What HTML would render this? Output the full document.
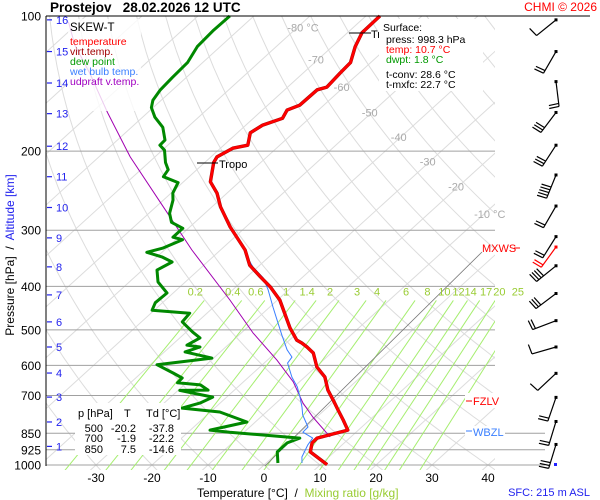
<!DOCTYPE html>
<html><head><meta charset="utf-8"><style>
html,body{margin:0;padding:0;background:#fff}
svg{display:block;font-family:"Liberation Sans",sans-serif}
</style></head><body>
<svg id="chart" width="600" height="500" viewBox="0 0 600 500" xmlns="http://www.w3.org/2000/svg">
<defs><clipPath id="plotclip"><rect x="46" y="16" width="449" height="454"/></clipPath></defs>
<rect width="600" height="500" fill="#fff"/>
<g id="grid" clip-path="url(#plotclip)"></g>
<g id="hlines"></g>
<g id="mix" clip-path="url(#plotclip)"></g>
<g id="isolabels" font-size="11" fill="#aaa"></g>
<line x1="265" y1="466" x2="482" y2="252" stroke="#777" stroke-width="0.8"/>
<g id="series"></g>
<line x1="46" y1="16" x2="590" y2="16" stroke="#000" stroke-width="1"/>
<line x1="46" y1="16" x2="46" y2="466" stroke="#000" stroke-width="1"/>
<g id="yticks" font-size="12" fill="#000" text-anchor="end"></g>
<g id="alt" font-size="11" fill="#2222ee"></g>
<g id="xticks" font-size="12" fill="#000" text-anchor="middle"></g>
<g id="barbs"></g>

<text x="50" y="12" font-size="13.5" font-weight="bold">Prostejov &#160;&#160;28.02.2026 12 UTC</text>
<text x="597" y="11" font-size="12" fill="#f00" text-anchor="end">CHMI © 2026</text>

<g font-size="10.5">
<rect x="68" y="19" width="73" height="92" fill="#fff" fill-opacity="0.8"/>
<text x="70" y="31" font-size="11.5" fill="#000">SKEW-T</text>
<text x="70" y="45" fill="#f00">temperature</text>
<text x="70" y="55" fill="#a00000">virt.temp.</text>
<text x="70" y="65" fill="#009900">dew point</text>
<text x="70" y="75" fill="#3a7fff">wet bulb temp.</text>
<text x="70" y="85" fill="#a000c0">udpraft v.temp.</text>
</g>

<g>
<line x1="197" y1="163" x2="218" y2="163" stroke="#000"/>
<text x="219" y="168" font-size="11">Tropo</text>
<line x1="349" y1="33" x2="371" y2="33" stroke="#000"/>
<text x="371" y="38" font-size="11">Tr</text>
</g>

<g font-size="10.5">
<rect x="379" y="19" width="104" height="72" fill="#fff"/>
<text x="383" y="31">Surface:</text>
<text x="386" y="43">press: 998.3 hPa</text>
<text x="386" y="53" fill="#f00">temp: 10.7 °C</text>
<text x="386" y="63" fill="#009900">dwpt: 1.8 °C</text>
<text x="386" y="78">t-conv: 28.6 °C</text>
<text x="386" y="88">t-mxfc: 22.7 °C</text>
</g>

<g font-size="11">
<text x="482" y="252" fill="#f00">MXWS</text><line x1="514" y1="248" x2="520" y2="248" stroke="#f00"/>
<rect x="465" y="393" width="43" height="15" fill="#fff"/>
<line x1="466" y1="401" x2="472" y2="401" stroke="#f00"/><text x="473" y="405" fill="#f00">FZLV</text>
<rect x="465" y="426" width="40" height="14" fill="#fff"/>
<line x1="466" y1="431" x2="472" y2="431" stroke="#3a7fff"/><text x="473" y="436" fill="#3a7fff">WBZL</text>
</g>

<g font-size="11">
<rect x="75" y="403" width="106" height="52" fill="#fff"/>
<text x="78" y="417">p [hPa]</text><text x="124" y="417">T</text><text x="146" y="417">Td [°C]</text>
<g text-anchor="end">
<text x="103" y="432">500</text><text x="136" y="432">-20.2</text><text x="174" y="432">-37.8</text>
<text x="103" y="442">700</text><text x="136" y="442">-1.9</text><text x="174" y="442">-22.2</text>
<text x="103" y="453">850</text><text x="136" y="453">7.5</text><text x="174" y="453">-14.6</text>
</g></g>

<text transform="translate(14,255) rotate(-90)" font-size="12" text-anchor="middle">Pressure [hPa] &#160;/&#160; <tspan fill="#2222ee">Altitude [km]</tspan></text>
<text x="197" y="497" font-size="12">Temperature [°C] &#160;/&#160; <tspan fill="#99cc33">Mixing ratio [g/kg]</tspan></text>
<text x="590" y="496" font-size="11" fill="#2222ee" text-anchor="end">SFC: 215 m ASL</text>
</svg>
<script>
const pLevels=[100,200,300,400,500,600,700,850,925,1000];
const tTicks=[-30,-20,-10,0,10,20,30,40];
const altKm=[1,2,3,4,5,6,7,8,9,10,11,12,13,14,15,16];
const altP=[909,802,706,624,546,480,418,362,312,267,228,195,165,141,120,102];
const mixVals=[0.2,0.4,0.6,1,1.4,2,3,4,6,8,10,12,14,17,20,25];
const isoLabels=[-80,-70,-60,-50,-40,-30,-20,-10];
const isoLabelP=[106,125,144,164,186,211,240,276];
// temperature
const tempP=[998,935,893,871,853,836,794,754,716,681,637,605,563,546,535,527,495,429,401,381,359,332,295,266,248,234,212,206,197,194,182,175,169,162,158,146,144,134,127,117,109,100];
const tempT=[11.2,5.7,4.25,4.2,6.2,8.1,5.3,2.4,-0.45,-3.3,-6.4,-9.8,-13.2,-15.5,-17.2,-18.7,-22.3,-29.6,-33.9,-37.6,-41.8,-45.6,-52.8,-58.5,-61.8,-65.2,-68.4,-68.9,-67.8,-65.7,-67.7,-67.0,-64.8,-65.6,-64.3,-64.2,-63.0,-63.4,-63.6,-65.9,-67.4,-67.5];
// dew point
const dewP=[990,935,893,871,845,836,802,762,747,728,706,682,681,663,656,640,624,598,578,560,546,541,521,506,480,459,452,435,414,391,368,353,344,336,329,315,311,297,288,275,257,248,235,228,220,212,199,194,189,177,168,160,154,146,137,127,117,107.5,100];
const dewT=[2.1,-0.2,-0.2,1.1,-12.6,-16.5,-11.5,-18.3,-25.8,-23.6,-22.5,-29.7,-24.7,-27.1,-31.6,-31.7,-34.3,-38.8,-30.3,-36.3,-34.6,-37.3,-36.4,-38.8,-42.7,-43.1,-50.4,-51.3,-51.1,-54.9,-57.4,-56.3,-59.1,-62.7,-60.7,-58.8,-61.0,-61.0,-64.2,-66.3,-68.3,-69.7,-70.8,-74.6,-75.1,-77.0,-79.6,-81.4,-81.5,-84.4,-87.8,-90.3,-91.5,-92.2,-92.5,-92.7,-94.1,-94.4,-94.3];
// wet bulb
const wbP=[990,960,903,871,845,823,774,743,706,670,637,593,575,554,514,475,445,407,383,362,344,332,295,266,248,234,212,206,197,194,182,175,169,162,158,146,144,134,127,117,109,100];
const wbT=[6.4,5.2,3.9,3.4,0.5,0.4,-2.9,-4.6,-6.9,-9.4,-12.3,-15.8,-16.2,-18.5,-22.3,-26.2,-29.4,-33.7,-36.9,-40.9,-43.9,-45.8,-52.9,-58.6,-61.9,-65.3,-68.5,-69.0,-67.9,-65.8,-67.8,-67.1,-64.9,-65.7,-64.4,-64.3,-63.1,-63.5,-63.7,-66.0,-67.5,-67.6];
// updraft parcel
const parP=[866,782,728,653,584,508,429,332,266,206,164,135,116,103];
const parT=[6.3,-0.7,-5.2,-11.1,-18.3,-27.9,-38.5,-55.1,-68.7,-84.4,-97.2,-107.7,-116.3,-122];
// wind barbs
const barbP=[102,120,140,164,194,226,265,310,327,360,415,477,546,625,707,800,900];
const barbDir=[141,120,83,127,123,112,120,122,126,141,143,159,164,137,109,107,107];
const barbFeathers=[1,2,2,3,3,5,2,2,2,4,3,2,1,1,2,2,3];
const barbColor=["#000","#000","#000","#000","#000","#000","#000","#000","#f00","#000","#000","#000","#000","#000","#000","#000","#000"];

const NS="http://www.w3.org/2000/svg";
const yOf=p=>16+449*Math.log10(p/100);
const xOf=(T,p)=>264+5.6*T+1.1*(465-yOf(p));
function mk(tag,attrs,parent){const e=document.createElementNS(NS,tag);for(const k in attrs)e.setAttribute(k,attrs[k]);parent.appendChild(e);return e;}
const grid=document.getElementById('grid');
for(let T=-130;T<=50;T+=10){
  const l=mk('line',{x1:xOf(T,1050),y1:yOf(1050),x2:xOf(T,100),y2:yOf(100),stroke:'#dcdcdc','stroke-width':1},grid);
  
  
}
for(let th=-40;th<=220;th+=10){
  let d='';
  for(let p=1050;p>=100;p-=10){const T=(th+273.15)*Math.pow(p/1000,0.2857)-273.15;d+=(d?'L':'M')+xOf(T,p).toFixed(1)+','+yOf(p).toFixed(1);}
  const a=mk('path',{d:d,fill:'none',stroke:'#dcdcdc','stroke-width':1},grid);
  
  
}
const hl=document.getElementById('hlines');const yt=document.getElementById('yticks');
pLevels.forEach(p=>{
  const y=yOf(p);const x2=p>=850?545:495;
  if(p>100){const l=mk('line',{x1:46,y1:y,x2:x2,y2:y,stroke:'#a0a0a0','stroke-width':1},hl);
  
  }
  const t=mk('text',{x:41,y:y+4.5},yt);t.textContent=p;
  
  
});
const al=document.getElementById('alt');
altKm.forEach((k,i)=>{const y=yOf(altP[i]);
  mk('line',{x1:47,y1:y,x2:52,y2:y,stroke:'#2222ee','stroke-width':1.2},al);
  const t=mk('text',{x:56,y:y+4},al);t.textContent=k;
  
  
});
const xt=document.getElementById('xticks');
tTicks.forEach(T=>{const t=mk('text',{x:xOf(T,1000),y:482},xt);t.textContent=T;
  
  });
const il=document.getElementById('isolabels');
isoLabels.forEach((T,i)=>{const p=isoLabelP[i];const t=mk('text',{x:xOf(T,p)-10,y:yOf(p)+4},il);
  t.textContent=T+((T===-80||T===-10)?' °C':'');
  
  });
const mx=document.getElementById('mix');
function tdOf(w,p){const e=w*p/(622+w);const l=Math.log(e/6.112);return 243.5*l/(17.67-l);}
mixVals.forEach(w=>{
  const l=mk('line',{x1:xOf(tdOf(w,1050),1050),y1:yOf(1050),x2:xOf(tdOf(w,430),430),y2:yOf(430),stroke:'#a6ee70','stroke-width':1},mx);
  
  
  const t=mk('text',{x:xOf(tdOf(w,430),430)-9,y:yOf(430)-5,'font-size':11,fill:'#99cc33','text-anchor':'middle'},document.getElementById('chart'));
  t.textContent=w;
  
  
});
const sg=document.getElementById('series');
function line(P,T,color,w,name){
  const d=P.map((p,i)=>(i?'L':'M')+xOf(T[i],p).toFixed(1)+','+yOf(p).toFixed(1)).join('');
  const e=mk('path',{d:d,fill:'none',stroke:color,'stroke-width':w,'stroke-linejoin':'round'},sg);
  
  
}
line(parP,parT,'#a000b0',1,'updraft-line');
line(wbP,wbT,'#3a7fff',1,'wet-bulb-line');
line(dewP,dewT,'#008800',3,'dew-point-line');
line(tempP,tempT,'#a00000',3.4,'virt-temp-line');
line(tempP,tempT,'#ff0000',2.6,'temperature-line');
const bg=document.getElementById('barbs');
barbP.forEach((p,i)=>{
  const x0=556,y0=yOf(p);const a=barbDir[i]*Math.PI/180;const L=25;
  const ex=x0+L*Math.cos(a),ey=y0+L*Math.sin(a);
  const g=mk('g',{stroke:barbColor[i],fill:barbColor[i],'stroke-width':1.2},bg);
  
  
  mk('line',{x1:x0,y1:y0,x2:ex,y2:ey},g);
  mk('rect',{x:x0-1.5,y:y0-1.5,width:3,height:3,stroke:'none'},g);
  const fa=a+85*Math.PI/180;
  for(let k=0;k<barbFeathers[i];k++){
    const bx=ex-3*k*Math.cos(a),by=ey-3*k*Math.sin(a);
    mk('line',{x1:bx,y1:by,x2:bx+10*Math.cos(fa),y2:by+10*Math.sin(fa)},g);
  }
});
mk('rect',{x:554,y:463,width:3,height:3,fill:'#22f'},bg);
</script>
</body></html>
